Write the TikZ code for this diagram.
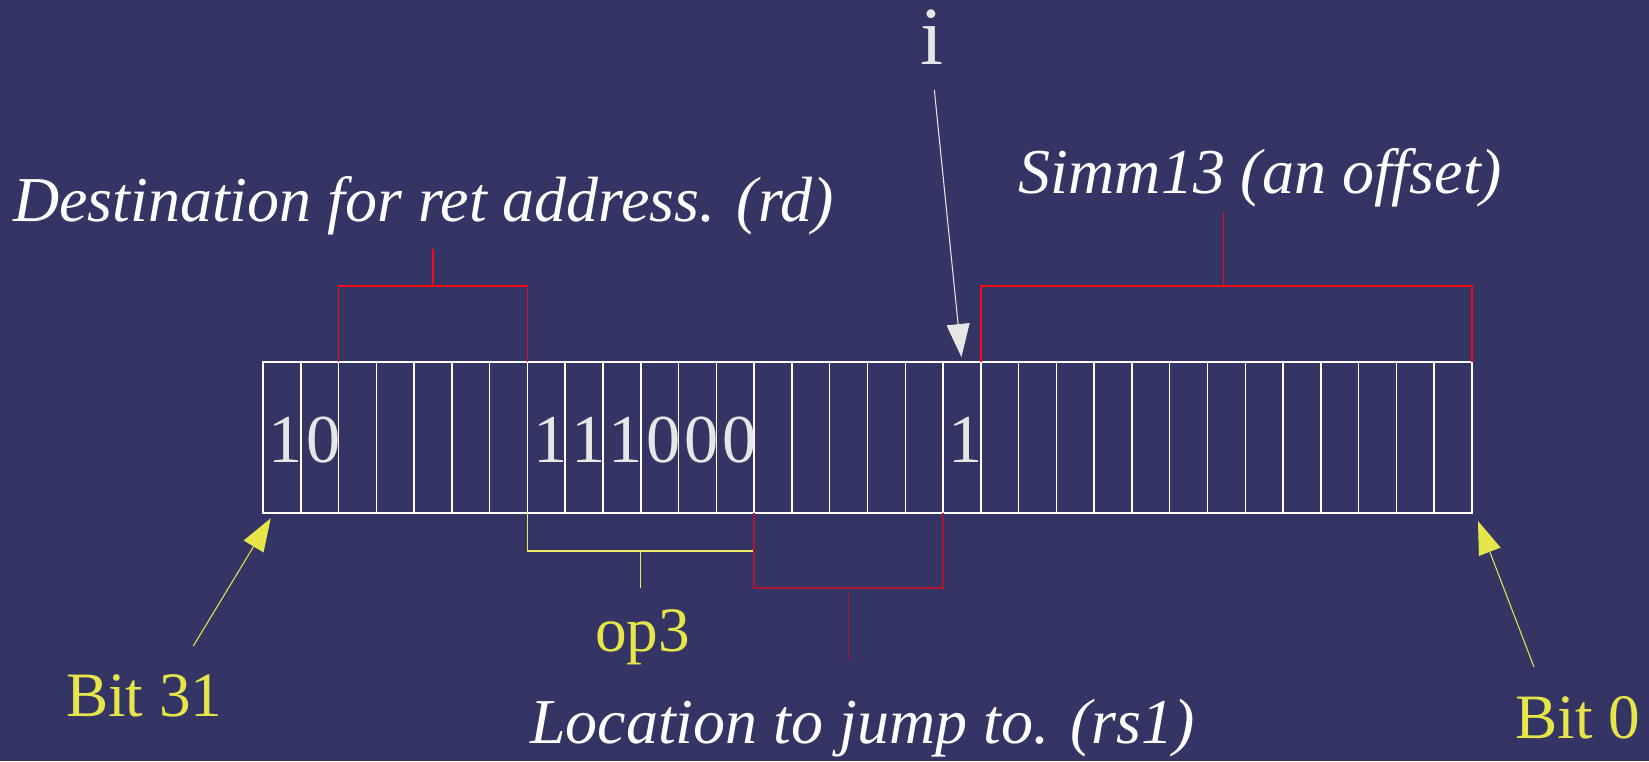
\documentclass[tikz,border=0pt]{standalone}
\usepackage{fontspec}
\setmainfont{Liberation Serif}
\usetikzlibrary{arrows.meta,calc}
\definecolor{slidebg}{HTML}{343465}
\definecolor{slideyellow}{HTML}{E6E64A}
\definecolor{brightred}{HTML}{F40A14}
\definecolor{darkred}{HTML}{B0142C}
\definecolor{cellgray}{HTML}{E6E6E6}
\tikzset{
	bitcell/.style={draw=white, line width=0.85pt, minimum width=0.7556cm, minimum height=3.02cm, inner sep=0pt, outer sep=0pt},
	bitval/.style={text=cellgray, font=\fontsize{39}{44}\selectfont, inner sep=0pt},
	caption/.style={text=white, font=\fontsize{36.4}{42}\selectfont\itshape, anchor=base, inner sep=0pt},
	yellowtag/.style={text=slideyellow, font=\fontsize{36}{42}\selectfont, anchor=base, inner sep=0pt},
	fieldred/.style={draw=brightred, line width=0.85pt},
	fielddark/.style={draw=darkred, line width=0.95pt},
	fieldyellow/.style={draw=slideyellow!85!white, line width=0.75pt},
	pointer/.style={line width=0.6pt, -{Triangle[length=0.66cm,width=0.46cm]}}
}

\begin{document}
\begin{tikzpicture}[x=0.02cm, y=-0.02cm]
		%%%%% START %%%%%
		
		\fill[slidebg] (0, 0) rectangle (1649, 761);
		\useasboundingbox (0, 0) rectangle (1649, 761);
		
		\foreach \k in {0,...,31}
			\node[bitcell] (c\k) at ({263+37.78*\k+18.89}, 437.5) {};
		\foreach \k/\v in {0/1,1/0,7/1,8/1,9/1,10/0,11/0,12/0,18/1}
			\node[bitval] (v\k) at ([xshift=0.08cm, yshift=-0.05cm]c\k.center) {\v};
		
		\node[caption] (rdtag) at (423.5, 221.5) {Destination for ret address. (rd)};
		\node[caption] (simmtag) at (1260.5, 193.3) {Simm13 (an offset)};
		\node[caption] (rstag) at (862.5, 743) {Location to jump to. (rs1)};
		\node[text=cellgray, font=\fontsize{47}{52}\selectfont, anchor=base, inner sep=0pt] (itag) at (931.7, 64) {i};
		\node[yellowtag] (optag) at (642.7, 651) {op3};
		\node[yellowtag] (b31tag) at (144.2, 716) {Bit 31};
		\node[yellowtag] (b0tag) at (1578, 738) {Bit 0};
		
		\draw[fieldred] (c2.north west) -- ++(0, -76) -| (c6.north east);
		\coordinate (rdmid) at ($(c2.north west)!0.5!(c6.north east)+(0, -76)$);
		\draw[fieldred] (rdmid) -- ++(0, -37);
		
		\draw[fieldred] (c19.north west) -- ++(0, -76) -| (c31.north east);
		\coordinate (simmmid) at ($(c19.north west)!0.5!(c31.north east)+(-3, -76)$);
		\draw[fieldred] (simmmid) -- ++(0, -74.3);
		
		\draw[fieldyellow] (c7.south west) -- ++(0, 38) -| (c12.south east);
		\coordinate (opmid) at ($(c7.south west)!0.5!(c12.south east)+(0, 38)$);
		\draw[fieldyellow] (opmid) -- ++(0, 37);
		
		\draw[fielddark] (c13.south west) -- ++(0, 75) -| (c17.south east);
		\coordinate (rsmid) at ($(c13.south west)!0.5!(c17.south east)+(0, 78.7)$);
		\draw[fielddark] (rsmid) -- ++(0, 68.3);
		
		\draw[pointer, cellgray, shorten <=0.52cm, shorten >=0.1cm] (itag.base) -- (c18.north);
		
		\coordinate (b31tail) at (193.3, 646);
		\draw[pointer, slideyellow] (b31tail) -- ($(c0.south west)+(7.7, 5.3)$);
		\coordinate (b0tail) at (1534, 667);
		\draw[pointer, slideyellow] (b0tail) -- ($(c31.south east)+(6, 8)$);
		
		%%%%% END %%%%%
\end{tikzpicture}
\end{document}
